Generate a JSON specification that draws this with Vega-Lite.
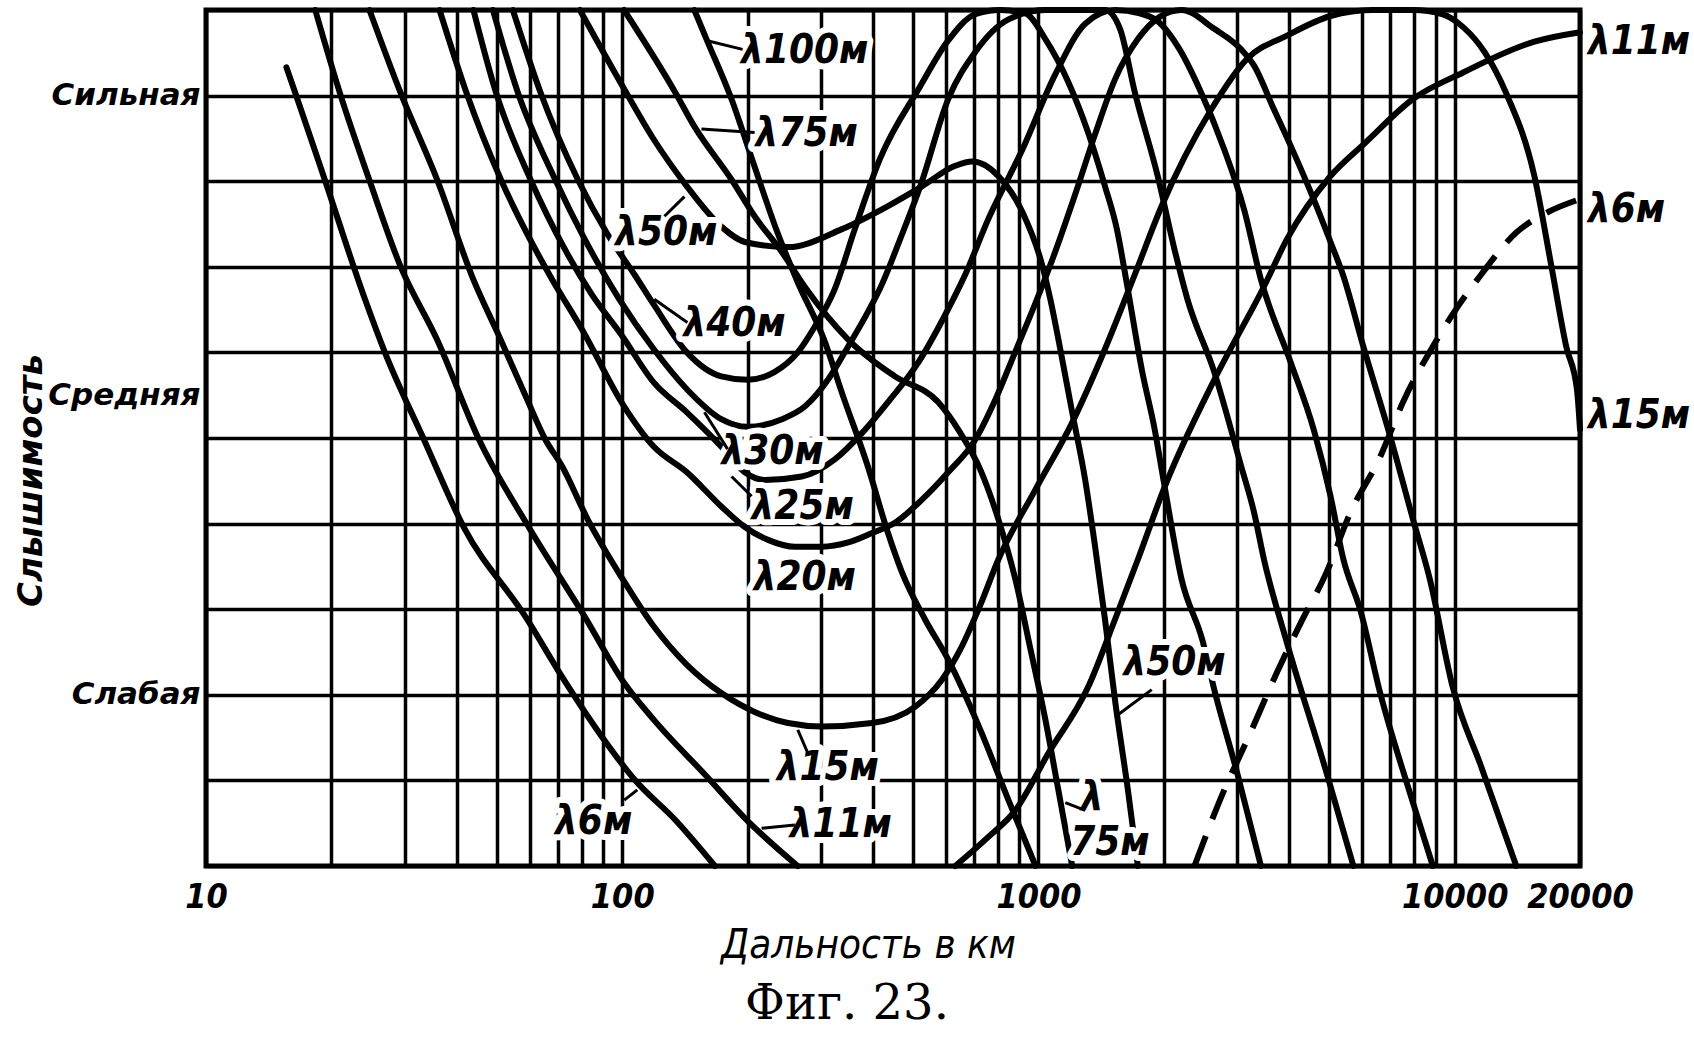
{
  "$schema": "https://vega.github.io/schema/vega-lite/v6.json",
  "width": 1374,
  "height": 856,
  "autosize": {"type": "none"},
  "padding": {"left": 206, "top": 10, "right": 114, "bottom": 172},
  "background": "white",
  "config": {"view": {"stroke": "black", "strokeWidth": 5}},
  "title": {"text": "Фиг. 23.", "orient": "bottom", "anchor": "middle", "frame": "group", "dx": -46, "offset": 16, "font": "DejaVu Serif", "fontSize": 48, "fontWeight": "normal", "color": "black"},
  "datasets": {
    "curves": [
      {"s":"6g","d":15.6,"v":9.33},{"s":"6g","d":16.5,"v":8.99},{"s":"6g","d":19.5,"v":7.95},{"s":"6g","d":24.1,"v":6.62},{"s":"6g","d":26.9,"v":6.0},{"s":"6g","d":33.4,"v":4.98},{"s":"6g","d":41.6,"v":3.96},{"s":"6g","d":58.6,"v":2.91},{"s":"6g","d":71.7,"v":2.21},{"s":"6g","d":90.6,"v":1.47},{"s":"6g","d":107,"v":1.01},{"s":"6g","d":134,"v":0.54},{"s":"6g","d":167,"v":0},
      {"s":"11g","d":18.3,"v":10},{"s":"11g","d":21.1,"v":8.99},{"s":"11g","d":24.7,"v":8.01},{"s":"11g","d":29.3,"v":7.01},{"s":"11g","d":35.9,"v":6.15},{"s":"11g","d":45.3,"v":4.98},{"s":"11g","d":59.6,"v":3.96},{"s":"11g","d":81.3,"v":2.91},{"s":"11g","d":101,"v":2.14},{"s":"11g","d":119,"v":1.71},{"s":"11g","d":160,"v":1.04},{"s":"11g","d":197,"v":0.56},{"s":"11g","d":264,"v":0},
      {"s":"15","d":24.7,"v":10},{"s":"15","d":29.3,"v":9.04},{"s":"15","d":35.9,"v":8.02},{"s":"15","d":43.9,"v":6.85},{"s":"15","d":50.6,"v":6.19},{"s":"15","d":58.6,"v":5.49},{"s":"15","d":65.4,"v":4.98},{"s":"15","d":71.7,"v":4.67},{"s":"15","d":82.6,"v":4.05},{"s":"15","d":99.4,"v":3.38},{"s":"15","d":119,"v":2.8},{"s":"15","d":143,"v":2.35},{"s":"15","d":173,"v":2.02},{"s":"15","d":208,"v":1.8},{"s":"15","d":250,"v":1.67},{"s":"15","d":302,"v":1.63},{"s":"15","d":398,"v":1.67},{"s":"15","d":505,"v":1.86},{"s":"15","d":587,"v":2.18},{"s":"15","d":649,"v":2.53},{"s":"15","d":725,"v":3.05},{"s":"15","d":801,"v":3.58},{"s":"15","d":984,"v":4.4},{"s":"15","d":1205,"v":5.18},{"s":"15","d":1445,"v":6.04},{"s":"15","d":1704,"v":6.91},{"s":"15","d":1977,"v":7.71},{"s":"15","d":2602,"v":8.84},{"s":"15","d":3171,"v":9.43},{"s":"15","d":3952,"v":9.7},{"s":"15","d":5031,"v":9.93},{"s":"15","d":6372,"v":10},{"s":"15","d":7940,"v":10},{"s":"15","d":9363,"v":9.95},{"s":"15","d":10480,"v":9.8},{"s":"15","d":11790,"v":9.51},{"s":"15","d":13260,"v":9.04},{"s":"15","d":15540,"v":8.06},{"s":"15","d":17070,"v":7.01},{"s":"15","d":18530,"v":6.07},{"s":"15","d":19660,"v":5.57},{"s":"15","d":20000,"v":5.1},
      {"s":"20","d":36.4,"v":10},{"s":"20","d":42.2,"v":9.04},{"s":"20","d":51.1,"v":8.02},{"s":"20","d":61.9,"v":7.2},{"s":"20","d":67.9,"v":6.85},{"s":"20","d":80,"v":6.27},{"s":"20","d":101,"v":5.37},{"s":"20","d":119,"v":4.9},{"s":"20","d":143,"v":4.6},{"s":"20","d":173,"v":4.2},{"s":"20","d":197,"v":3.96},{"s":"20","d":224,"v":3.81},{"s":"20","d":260,"v":3.73},{"s":"20","d":302,"v":3.73},{"s":"20","d":349,"v":3.78},{"s":"20","d":398,"v":3.89},{"s":"20","d":452,"v":4.01},{"s":"20","d":525,"v":4.28},{"s":"20","d":607,"v":4.6},{"s":"20","d":705,"v":4.98},{"s":"20","d":788,"v":5.45},{"s":"20","d":880,"v":6.01},{"s":"20","d":984,"v":6.58},{"s":"20","d":1098,"v":7.18},{"s":"20","d":1226,"v":7.85},{"s":"20","d":1368,"v":8.55},{"s":"20","d":1527,"v":9.19},{"s":"20","d":1733,"v":9.66},{"s":"20","d":1955,"v":9.92},{"s":"20","d":2207,"v":10},{"s":"20","d":2645,"v":9.78},{"s":"20","d":3069,"v":9.54},{"s":"20","d":3296,"v":9.35},{"s":"20","d":3678,"v":8.84},{"s":"20","d":4039,"v":8.41},{"s":"20","d":4583,"v":7.79},{"s":"20","d":5031,"v":7.29},{"s":"20","d":5404,"v":6.89},{"s":"20","d":6031,"v":6.07},{"s":"20","d":6998,"v":5.02},{"s":"20","d":7940,"v":4.05},{"s":"20","d":8716,"v":3.35},{"s":"20","d":9890,"v":2.09},{"s":"20","d":11580,"v":1.16},{"s":"20","d":14060,"v":0},
      {"s":"25","d":43.9,"v":10},{"s":"25","d":49.7,"v":9.04},{"s":"25","d":60.2,"v":8.02},{"s":"25","d":72.9,"v":7.2},{"s":"25","d":84.4,"v":6.68},{"s":"25","d":99.4,"v":6.21},{"s":"25","d":119,"v":5.65},{"s":"25","d":143,"v":5.3},{"s":"25","d":173,"v":4.9},{"s":"25","d":197,"v":4.6},{"s":"25","d":220,"v":4.51},{"s":"25","d":270,"v":4.55},{"s":"25","d":324,"v":4.75},{"s":"25","d":377,"v":5.06},{"s":"25","d":435,"v":5.42},{"s":"25","d":514,"v":5.88},{"s":"25","d":597,"v":6.44},{"s":"25","d":667,"v":6.91},{"s":"25","d":758,"v":7.56},{"s":"25","d":915,"v":8.37},{"s":"25","d":1098,"v":9.25},{"s":"25","d":1295,"v":9.84},{"s":"25","d":1527,"v":10},{"s":"25","d":1751,"v":9.96},{"s":"25","d":1934,"v":9.87},{"s":"25","d":2183,"v":9.54},{"s":"25","d":2436,"v":9.08},{"s":"25","d":2795,"v":8.37},{"s":"25","d":3119,"v":7.67},{"s":"25","d":3424,"v":6.85},{"s":"25","d":4039,"v":5.88},{"s":"25","d":4583,"v":5.1},{"s":"25","d":5031,"v":4.32},{"s":"25","d":5404,"v":3.58},{"s":"25","d":5933,"v":2.99},{"s":"25","d":6622,"v":2.02},{"s":"25","d":7808,"v":0.85},{"s":"25","d":8862,"v":0},
      {"s":"30","d":48.9,"v":10},{"s":"30","d":56.1,"v":9.04},{"s":"30","d":69,"v":8.02},{"s":"30","d":81.3,"v":7.32},{"s":"30","d":98.4,"v":6.62},{"s":"30","d":119,"v":6.04},{"s":"30","d":143,"v":5.57},{"s":"30","d":173,"v":5.22},{"s":"30","d":200,"v":5.13},{"s":"30","d":242,"v":5.22},{"s":"30","d":275,"v":5.37},{"s":"30","d":312,"v":5.68},{"s":"30","d":349,"v":6.07},{"s":"30","d":389,"v":6.47},{"s":"30","d":421,"v":6.8},{"s":"30","d":465,"v":7.32},{"s":"30","d":520,"v":7.94},{"s":"30","d":607,"v":8.96},{"s":"30","d":705,"v":9.51},{"s":"30","d":847,"v":9.89},{"s":"30","d":1039,"v":10},{"s":"30","d":1295,"v":10},{"s":"30","d":1445,"v":10},{"s":"30","d":1570,"v":9.78},{"s":"30","d":1704,"v":9.04},{"s":"30","d":1934,"v":8.06},{"s":"30","d":2123,"v":7.2},{"s":"30","d":2280,"v":6.62},{"s":"30","d":2645,"v":5.77},{"s":"30","d":3069,"v":4.67},{"s":"30","d":3296,"v":4.13},{"s":"30","d":3482,"v":3.58},{"s":"30","d":3952,"v":2.61},{"s":"30","d":4921,"v":1.09},{"s":"30","d":5710,"v":0},
      {"s":"40","d":54.6,"v":10},{"s":"40","d":63.6,"v":9.04},{"s":"40","d":78.2,"v":8.02},{"s":"40","d":92.2,"v":7.38},{"s":"40","d":107,"v":6.91},{"s":"40","d":119,"v":6.56},{"s":"40","d":143,"v":6},{"s":"40","d":173,"v":5.72},{"s":"40","d":200,"v":5.68},{"s":"40","d":232,"v":5.77},{"s":"40","d":264,"v":6},{"s":"40","d":290,"v":6.3},{"s":"40","d":324,"v":6.74},{"s":"40","d":362,"v":7.44},{"s":"40","d":416,"v":8.26},{"s":"40","d":520,"v":9.11},{"s":"40","d":604,"v":9.63},{"s":"40","d":705,"v":9.95},{"s":"40","d":810,"v":10},{"s":"40","d":930,"v":9.96},{"s":"40","d":1039,"v":9.66},{"s":"40","d":1179,"v":9.16},{"s":"40","d":1316,"v":8.57},{"s":"40","d":1445,"v":7.94},{"s":"40","d":1543,"v":7.44},{"s":"40","d":1631,"v":6.8},{"s":"40","d":1771,"v":5.8},{"s":"40","d":1902,"v":5.1},{"s":"40","d":2010,"v":4.43},{"s":"40","d":2207,"v":3.35},{"s":"40","d":2476,"v":2.64},{"s":"40","d":2645,"v":2.06},{"s":"40","d":3001,"v":1.09},{"s":"40","d":3424,"v":0},
      {"s":"50","d":79.1,"v":10},{"s":"50","d":101,"v":9.08},{"s":"50","d":119,"v":8.49},{"s":"50","d":143,"v":7.94},{"s":"50","d":173,"v":7.47},{"s":"50","d":197,"v":7.29},{"s":"50","d":250,"v":7.23},{"s":"50","d":337,"v":7.44},{"s":"50","d":435,"v":7.71},{"s":"50","d":525,"v":7.94},{"s":"50","d":631,"v":8.18},{"s":"50","d":693,"v":8.23},{"s":"50","d":801,"v":8.06},{"s":"50","d":915,"v":7.64},{"s":"50","d":1022,"v":7.01},{"s":"50","d":1068,"v":6.62},{"s":"50","d":1128,"v":6.04},{"s":"50","d":1205,"v":5.3},{"s":"50","d":1295,"v":4.51},{"s":"50","d":1368,"v":3.73},{"s":"50","d":1445,"v":2.88},{"s":"50","d":1527,"v":1.94},{"s":"50","d":1640,"v":0.89},{"s":"50","d":1733,"v":0},
      {"s":"75","d":101,"v":10},{"s":"75","d":134,"v":9.04},{"s":"75","d":149,"v":8.64},{"s":"75","d":183,"v":8.02},{"s":"75","d":208,"v":7.59},{"s":"75","d":242,"v":7.17},{"s":"75","d":275,"v":6.76},{"s":"75","d":349,"v":6.15},{"s":"75","d":452,"v":5.72},{"s":"75","d":574,"v":5.42},{"s":"75","d":649,"v":5.06},{"s":"75","d":725,"v":4.63},{"s":"75","d":801,"v":4.05},{"s":"75","d":880,"v":3.35},{"s":"75","d":957,"v":2.53},{"s":"75","d":1039,"v":1.71},{"s":"75","d":1116,"v":0.89},{"s":"75","d":1205,"v":0},
      {"s":"100","d":149,"v":10},{"s":"100","d":160,"v":9.64},{"s":"100","d":183,"v":8.96},{"s":"100","d":205,"v":8.26},{"s":"100","d":236,"v":7.4},{"s":"100","d":264,"v":6.82},{"s":"100","d":307,"v":6.12},{"s":"100","d":337,"v":5.53},{"s":"100","d":389,"v":4.67},{"s":"100","d":435,"v":3.89},{"s":"100","d":470,"v":3.43},{"s":"100","d":534,"v":2.88},{"s":"100","d":607,"v":2.41},{"s":"100","d":725,"v":1.59},{"s":"100","d":847,"v":0.77},{"s":"100","d":984,"v":0},
      {"s":"11s","d":631,"v":0},{"s":"11s","d":758,"v":0.34},{"s":"11s","d":880,"v":0.65},{"s":"11s","d":1057,"v":1.32},{"s":"11s","d":1316,"v":2.09},{"s":"11s","d":1527,"v":2.88},{"s":"11s","d":1733,"v":3.58},{"s":"11s","d":2010,"v":4.43},{"s":"11s","d":2645,"v":5.68},{"s":"11s","d":3482,"v":6.77},{"s":"11s","d":3952,"v":7.32},{"s":"11s","d":5031,"v":8.06},{"s":"11s","d":6132,"v":8.46},{"s":"11s","d":7940,"v":8.96},{"s":"11s","d":10480,"v":9.27},{"s":"11s","d":15540,"v":9.63},{"s":"11s","d":20000,"v":9.74},
      {"s":"6s","d":2370,"v":0},{"s":"6s","d":2795,"v":0.89},{"s":"6s","d":3171,"v":1.47},{"s":"6s","d":3740,"v":2.26},{"s":"6s","d":4267,"v":2.84},{"s":"6s","d":4921,"v":3.43},{"s":"6s","d":5616,"v":4.13},{"s":"6s","d":6622,"v":4.78},{"s":"6s","d":7515,"v":5.42},{"s":"6s","d":8862,"v":6.07},{"s":"6s","d":10060,"v":6.5},{"s":"6s","d":11580,"v":6.91},{"s":"6s","d":14060,"v":7.4},{"s":"6s","d":16770,"v":7.64},{"s":"6s","d":20000,"v":7.79}
    ],
    "labels": [
      {"t":"λ100м","d":274.5,"v":9.52},
      {"t":"λ75м","d":277.5,"v":8.55},
      {"t":"λ50м","d":127.6,"v":7.40},
      {"t":"λ40м","d":186.2,"v":6.33},
      {"t":"λ30м","d":229.8,"v":4.84},
      {"t":"λ25м","d":271.4,"v":4.19},
      {"t":"λ20м","d":274.5,"v":3.37},
      {"t":"λ15м","d":311.9,"v":1.15},
      {"t":"λ11м","d":335.1,"v":0.48},
      {"t":"λ6м","d":85.4,"v":0.51},
      {"t":"λ50м","d":2123,"v":2.37},
      {"t":"λ","d":1345,"v":0.80},
      {"t":"75м","d":1485,"v":0.27}
    ],
    "rlabels": [
      {"t":"λ11м","d":20900,"v":9.63},
      {"t":"λ6м","d":20900,"v":7.66},
      {"t":"λ15м","d":20900,"v":5.26}
    ],
    "leaders": [
      {"d":160.2,"v":9.64,"d2":194.6,"v2":9.54},
      {"d":155.0,"v":8.61,"d2":208.0,"v2":8.57},
      {"d":119.4,"v":6.62,"d2":143.4,"v2":6.35},
      {"d":216.2,"v":0.44,"d2":259.8,"v2":0.48},
      {"d":101.1,"v":0.77,"d2":108.7,"v2":0.89},
      {"d":264.1,"v":1.59,"d2":279.1,"v2":1.32},
      {"d":183.1,"v":4.55,"d2":204.6,"v2":4.32},
      {"d":157.6,"v":5.30,"d2":179.1,"v2":4.87},
      {"d":126.3,"v":7.59,"d2":141.1,"v2":7.82},
      {"d":1527,"v":1.74,"d2":1871,"v2":2.06},
      {"d":1160,"v":0.74,"d2":1295,"v2":0.65}
    ]
  },
  "layer": [
    {
      "data": {"name": "curves"},
      "transform": [{"filter": "datum.s != '6s'"}],
      "mark": {"type": "line", "color": "black", "strokeWidth": 6, "interpolate": "monotone", "strokeCap": "round"},
      "encoding": {
        "x": {
          "field": "d", "type": "quantitative",
          "scale": {"type": "log", "domain": [10, 20000], "nice": false},
          "axis": {
            "title": "Дальность в км",
            "values": [10,20,30,40,50,60,70,80,90,100,200,300,400,500,600,700,800,900,1000,2000,3000,4000,5000,6000,7000,8000,9000,10000,20000],
            "labelExpr": "indexof([10,100,1000,10000,20000], datum.value) >= 0 ? '' + datum.value : ''",
            "grid": true, "gridColor": "black", "gridWidth": 3.5, "gridOpacity": 1,
            "ticks": false, "domain": false, "labelOverlap": false, "labelFlush": false,
            "labelFont": "Liberation Sans Narrow, DejaVu Sans Condensed, sans-serif", "labelFontSize": 34, "labelFontStyle": "italic", "labelFontWeight": "bold", "labelColor": "black", "labelPadding": 14,
            "titleFont": "DejaVu Sans Condensed, Liberation Sans Narrow, sans-serif", "titleFontSize": 40, "titleFontStyle": "italic", "titleFontWeight": "normal", "titleColor": "black",
            "titleX": 662, "titleY": 79, "titleAlign": "center", "titleBaseline": "middle"
          }
        },
        "y": {
          "field": "v", "type": "quantitative",
          "scale": {"domain": [0, 10], "nice": false, "zero": false},
          "axis": {
            "title": "Слышимость",
            "values": [0,1,2,3,4,5,5.5,6,7,8,9,10],
            "labelExpr": "datum.value == 9 ? 'Сильная' : datum.value == 5.5 ? 'Средняя' : datum.value == 2 ? 'Слабая' : ''",
            "grid": true, "gridColor": "black", "gridWidth": 3.5,
            "gridOpacity": {"condition": {"test": "datum.value == 5.5", "value": 0}, "value": 1},
            "ticks": false, "domain": false, "labelOverlap": false, "labelFlush": false,
            "labelFont": "DejaVu Sans", "labelFontSize": 31, "labelFontStyle": "italic", "labelFontWeight": "bold", "labelColor": "black", "labelPadding": 6,
            "titleFont": "DejaVu Sans", "titleFontSize": 34, "titleFontStyle": "italic", "titleFontWeight": "bold", "titleColor": "black",
            "titleAngle": 270, "titleX": -175, "titleY": 470, "titleAlign": "center", "titleBaseline": "middle"
          }
        },
        "detail": {"field": "s"}
      }
    },
    {
      "data": {"name": "curves"},
      "transform": [{"filter": "datum.s == '6s'"}],
      "mark": {"type": "line", "color": "black", "strokeWidth": 6, "strokeDash": [32, 18], "interpolate": "monotone"},
      "encoding": {
        "x": {"field": "d", "type": "quantitative"},
        "y": {"field": "v", "type": "quantitative"}
      }
    },
    {
      "data": {"name": "labels"},
      "mark": {"type": "text", "fill": "white", "stroke": "white", "strokeWidth": 12, "strokeJoin": "round", "font": "Liberation Sans Narrow, DejaVu Sans Condensed, sans-serif", "fontSize": 40, "fontStyle": "italic", "fontWeight": "bold", "align": "center", "baseline": "middle"},
      "encoding": {
        "x": {"field": "d", "type": "quantitative"},
        "y": {"field": "v", "type": "quantitative"},
        "text": {"field": "t"}
      }
    },
    {
      "data": {"name": "leaders"},
      "mark": {"type": "rule", "color": "black", "strokeWidth": 3},
      "encoding": {
        "x": {"field": "d", "type": "quantitative"},
        "x2": {"field": "d2"},
        "y": {"field": "v", "type": "quantitative"},
        "y2": {"field": "v2"}
      }
    },
    {
      "data": {"name": "labels"},
      "mark": {"type": "text", "color": "black", "font": "Liberation Sans Narrow, DejaVu Sans Condensed, sans-serif", "fontSize": 40, "fontStyle": "italic", "fontWeight": "bold", "align": "center", "baseline": "middle"},
      "encoding": {
        "x": {"field": "d", "type": "quantitative"},
        "y": {"field": "v", "type": "quantitative"},
        "text": {"field": "t"}
      }
    },
    {
      "data": {"name": "rlabels"},
      "mark": {"type": "text", "color": "black", "font": "Liberation Sans Narrow, DejaVu Sans Condensed, sans-serif", "fontSize": 40, "fontStyle": "italic", "fontWeight": "bold", "align": "left", "baseline": "middle"},
      "encoding": {
        "x": {"field": "d", "type": "quantitative"},
        "y": {"field": "v", "type": "quantitative"},
        "text": {"field": "t"}
      }
    }
  ]
}
